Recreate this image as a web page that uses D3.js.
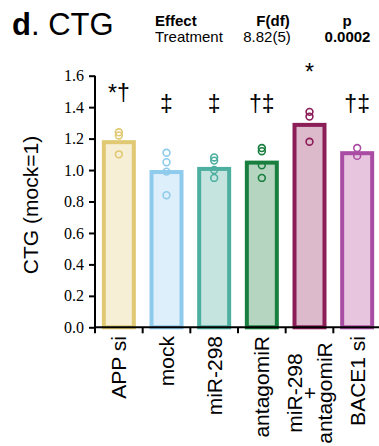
<!DOCTYPE html>
<html>
<head>
<meta charset="utf-8">
<script src="https://cdn.jsdelivr.net/npm/d3@7"></script>
<style>
  body { margin: 0; background: #fff; }
  svg { display: block; }
  text { font-family: "Liberation Sans", Arial, sans-serif; fill: #000; }
</style>
</head>
<body>
<svg id="chart" width="379" height="446"></svg>
<script>
// Groups shown along the x axis
const groups = ["APP si", "mock", "miR-298", "antagomiR", "miR-298+antagomiR", "BACE1 si"];
// Axis label lines per group (the combined treatment is stacked over three lines)
const groupLabels = [["APP si"], ["mock"], ["miR-298"], ["antagomiR"], ["miR-298", "+", "antagomiR"], ["BACE1 si"]];
// Mean CTG per group, normalised to mock
const means = [1.19, 1.00, 1.02, 1.06, 1.30, 1.12];
// Individual replicates per group
const replicates = [
  [1.24, 1.22, 1.10],
  [1.11, 1.05, 0.99, 0.84],
  [1.08, 1.06, 1.00, 0.95],
  [1.14, 1.12, 1.03, 0.95],
  [1.37, 1.34, 1.18],
  [1.14, 1.09]
];
// Significance marks above each group
const sigMarks = ["*\u2020", "\u2021", "\u2021", "\u2020\u2021", "*", "\u2020\u2021"];
// Y-axis tick values
const yTicks = [0, 0.2, 0.4, 0.6, 0.8, 1.0, 1.2, 1.4, 1.6];

// Per-group colours: outline and fill
const strokeColors = ["#e0c972", "#8ecbec", "#4caf9f", "#187f3f", "#8b1d57", "#a94ca3"];
const fillColors   = ["#f6eed5", "#ddeffa", "#c6e4df", "#b6d5c0", "#dcbacb", "#e7c5df"];

const svg = d3.select("#chart");

const x = d3.scaleBand().domain(groups).range([95, 381]).padding(0);
const y = d3.scaleLinear().domain([0, 1.6]).range([327.3, 75.7]);

const barOuter = x.bandwidth() * 0.713;
const sw = 4;

// Bars
svg.append("g").selectAll("rect")
  .data(groups)
  .join("rect")
  .attr("x", (d, i) => x(d) + (x.bandwidth() - barOuter) / 2 + sw / 2)
  .attr("width", barOuter - sw)
  .attr("y", (d, i) => y(means[i]) + sw / 2)
  .attr("height", (d, i) => y(0) - y(means[i]) - sw / 2)
  .attr("fill", (d, i) => fillColors[i])
  .attr("stroke", (d, i) => strokeColors[i])
  .attr("stroke-width", sw);

// Replicate points
groups.forEach((g, i) => {
  svg.append("g").selectAll("circle")
    .data(replicates[i])
    .join("circle")
    .attr("cx", x(g) + x.bandwidth() / 2)
    .attr("cy", d => y(d))
    .attr("r", 3.4)
    .attr("fill", "none")
    .attr("stroke", strokeColors[i])
    .attr("stroke-width", 1.6);
});

// Significance marks: sit above the replicates, never below a common level
svg.append("g").selectAll("text")
  .data(groups)
  .join("text")
  .attr("x", d => x(d) + x.bandwidth() / 2)
  .attr("y", (d, i) => y(Math.max(1.37, d3.max(replicates[i]) + 0.2)))
  .attr("text-anchor", "middle")
  .style("font-size", "23px")
  .text((d, i) => sigMarks[i]);

// Y axis
const yAxis = svg.append("g")
  .attr("transform", "translate(95,0)")
  .call(d3.axisLeft(y).tickValues(yTicks).tickFormat(d3.format(".1f")).tickSize(6).tickPadding(5));
yAxis.select(".domain").attr("stroke-width", 2).attr("d", `M0,${y(1.6)}V${y(0)}`);
yAxis.selectAll(".tick line").attr("stroke-width", 2);
yAxis.selectAll(".tick text")
  .style("font-family", "'Liberation Serif', 'Times New Roman', serif")
  .style("font-size", "16px");

// X axis
const xAxis = svg.append("g")
  .attr("transform", `translate(0,${y(0)})`)
  .call(d3.axisBottom(x).tickSize(0).tickFormat(""));
xAxis.select(".domain").attr("stroke-width", 2).attr("d", "M94,0H381");
xAxis.selectAll(".tick").remove();
// Ticks between groups
xAxis.append("g").selectAll("line")
  .data(groups)
  .join("line")
  .attr("x1", d => x(d)).attr("x2", d => x(d))
  .attr("y1", 0).attr("y2", 6)
  .attr("stroke", "#000").attr("stroke-width", 2);

// Rotated group labels
groupLabels.forEach((lines, i) => {
  const cx = x(groups[i]) + x.bandwidth() / 2;
  if (lines.length === 1) {
    svg.append("text")
      .attr("transform", `translate(${cx},336) rotate(-90)`)
      .attr("text-anchor", "end")
      .attr("dy", "0.35em")
      .style("font-size", "21px")
      .text(lines[0]);
  } else {
    const step = 15;
    lines.forEach((t, k) => {
      svg.append("text")
        .attr("transform", `translate(${cx + (k - 1) * step},393) rotate(-90)`)
        .attr("text-anchor", "middle")
        .attr("dy", "0.35em")
        .style("font-size", "21px")
        .text(t);
    });
  }
});

// Y-axis title
svg.append("text")
  .attr("transform", "translate(31,205) rotate(-90)")
  .attr("text-anchor", "middle")
  .attr("dy", "0.35em")
  .style("font-size", "21px")
  .text("CTG (mock=1)");

// Panel title
const title = svg.append("text").attr("x", 12).attr("y", 35).style("font-size", "31px");
title.append("tspan").style("font-weight", "bold").text("d");
title.append("tspan").text(". CTG");

// Statistics table
const stats = svg.append("g").style("font-size", "15px");
stats.append("text").attr("x", 155).attr("y", 25.5).style("font-weight", "bold").text("Effect");
stats.append("text").attr("x", 273).attr("y", 25.5).attr("text-anchor", "middle").style("font-weight", "bold").text("F(df)");
stats.append("text").attr("x", 347).attr("y", 25.5).attr("text-anchor", "middle").style("font-weight", "bold").text("p");
stats.append("text").attr("x", 155).attr("y", 42).text("Treatment");
stats.append("text").attr("x", 267).attr("y", 42).attr("text-anchor", "middle").text("8.82(5)");
stats.append("text").attr("x", 347.5).attr("y", 42).attr("text-anchor", "middle").style("font-weight", "bold").text("0.0002");
</script>
</body>
</html>
